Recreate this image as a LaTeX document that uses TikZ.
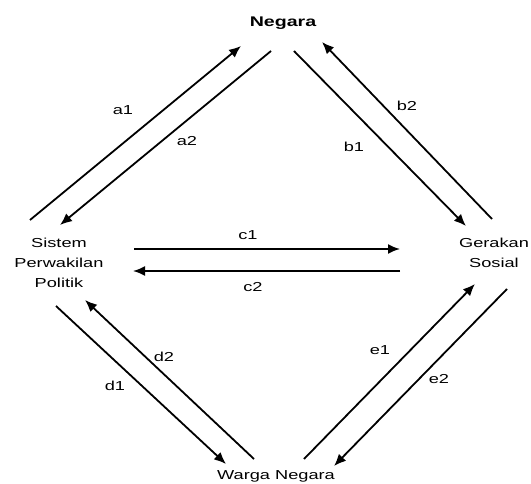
\documentclass[tikz,border=0pt]{standalone}
\usepackage{fontspec}
\setmainfont[FakeStretch=1.4]{Liberation Sans}
\usetikzlibrary{positioning}
\usetikzlibrary{calc,arrows.meta}

\begin{document}
\begin{tikzpicture}[
x=1pt, y=-1pt,
actornode/.style={align=center, inner sep=0pt, font=\fontsize{13}{20}\selectfont},
topnode/.style={inner sep=0pt, font=\fontsize{14}{16}\selectfont\bfseries},
flow/.style={line width=1.8pt, -{Latex[length=12pt,width=10pt]}},
flowlabel/.style={inner sep=0pt, font=\fontsize{13}{15}\selectfont},
]
\useasboundingbox (0,0) rectangle (531,484);
%Nodes
\node[topnode]          (negara)    at (283,23)     {Negara};
\node[actornode]        (sistem)    at (59,263)     {Sistem\\Perwakilan\\Politik};
\node[actornode]        (gerakan)   at (494,253)    {Gerakan\\Sosial};
\node[actornode]        (warga)     at (276,476)    {Warga Negara};
%Lines
\draw[flow] ($(sistem)+(-29,-43)$) -- ($(negara)+(-42,23)$);
\draw[flow] ($(negara)+(-12,28)$) -- ($(sistem)+(1,-38)$);
\draw[flow] ($(negara)+(11,28)$) -- ($(gerakan)+(-28,-27)$);
\draw[flow] ($(gerakan)+(-2,-34)$) -- ($(negara)+(39,19)$);
\draw[flow] ($(sistem)+(75,-14)$) -- ($(gerakan)+(-94,-4)$);
\draw[flow] ($(gerakan)+(-94,18)$) -- ($(sistem)+(74,8)$);
\draw[flow] ($(sistem)+(-3,43)$) -- ($(warga)+(-50,-12)$);
\draw[flow] ($(warga)+(-22,-17)$) -- ($(sistem)+(26,37)$);
\draw[flow] ($(warga)+(28,-17)$) -- ($(gerakan)+(-19,31)$);
\draw[flow] ($(gerakan)+(13,36)$) -- ($(warga)+(58,-10)$);
%Text
\node[flowlabel] (la1) at (123,110) {a1};
\node[flowlabel] (la2) at (187,141) {a2};
\node[flowlabel] (lb1) at (354,147) {b1};
\node[flowlabel] (lb2) at (407,106) {b2};
\node[flowlabel] (lc1) at (248,235) {c1};
\node[flowlabel] (lc2) at (253,287) {c2};
\node[flowlabel] (ld1) at (115,386) {d1};
\node[flowlabel] (ld2) at (164,357) {d2};
\node[flowlabel] (le1) at (380,350) {e1};
\node[flowlabel] (le2) at (439,379) {e2};

\end{tikzpicture}
\end{document}
